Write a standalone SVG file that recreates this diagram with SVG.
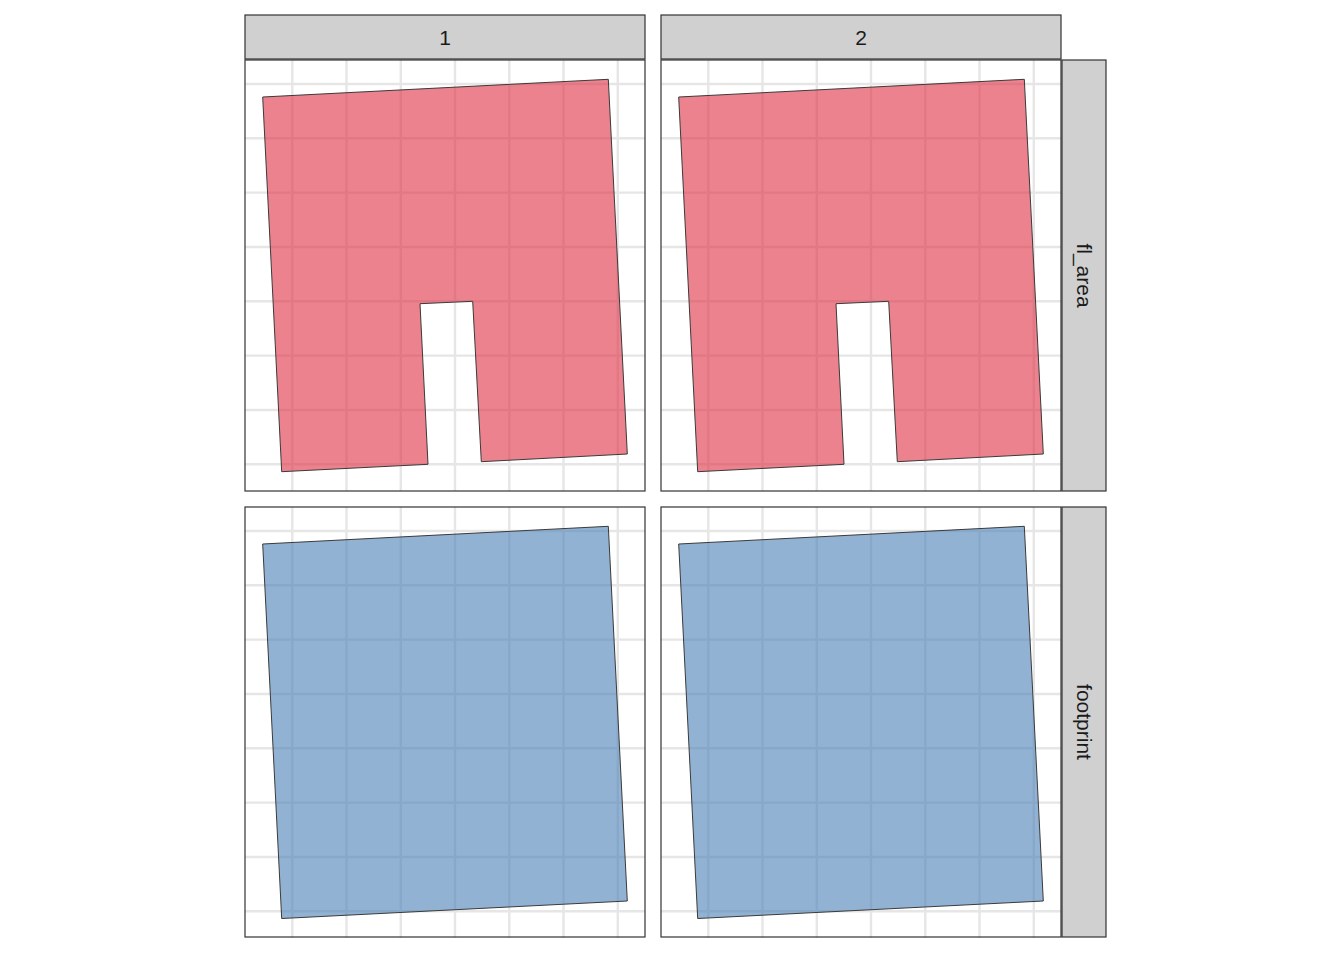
<svg xmlns="http://www.w3.org/2000/svg" width="1344" height="960" viewBox="0 0 1344 960">
<defs>
<style>
.bg{fill:#FFFFFF;}
.border{fill:none;stroke:#333333;stroke-width:1.2;}
.strip{fill:#D0D0D0;stroke:#333333;stroke-width:1.2;}
.stxt{font-family:"Liberation Sans",Arial,sans-serif;font-size:21px;fill:#1A1A1A;text-anchor:middle;}
.red{fill:#DF2F42;fill-opacity:0.6;stroke:#3a3a3a;stroke-width:1;}
.blue{fill:#4A7FB5;fill-opacity:0.6;stroke:#3a3a3a;stroke-width:1;}
</style>
<g id="gridV" stroke="#E6E6E6" stroke-width="2.4">
<line x1="47.3" y1="0" x2="47.3" y2="431"/>
<line x1="101.5" y1="0" x2="101.5" y2="431"/>
<line x1="155.8" y1="0" x2="155.8" y2="431"/>
<line x1="210" y1="0" x2="210" y2="431"/>
<line x1="264.3" y1="0" x2="264.3" y2="431"/>
<line x1="318.5" y1="0" x2="318.5" y2="431"/>
<line x1="372.8" y1="0" x2="372.8" y2="431"/>
<line x1="0" y1="24" x2="400" y2="24"/>
<line x1="0" y1="78.3" x2="400" y2="78.3"/>
<line x1="0" y1="132.6" x2="400" y2="132.6"/>
<line x1="0" y1="187" x2="400" y2="187"/>
<line x1="0" y1="241.3" x2="400" y2="241.3"/>
<line x1="0" y1="295.6" x2="400" y2="295.6"/>
<line x1="0" y1="350" x2="400" y2="350"/>
<line x1="0" y1="404.3" x2="400" y2="404.3"/>
</g>
</defs>
<rect x="0" y="0" width="1344" height="960" class="bg"/>

<g id="panel-1-fl_area">
<rect x="245" y="60" width="400" height="431" class="bg"/>
<use href="#gridV" transform="translate(245,60)"/>
<polygon class="red" points="262.7,97 608.3,79.3 627.3,454 481.3,461.7 472.7,301.3 420,303.7 428,464.3 281.7,471.7"/>
<rect x="245" y="60" width="400" height="431" class="border"/>
</g>

<g id="panel-2-fl_area">
<rect x="661" y="60" width="400" height="431" class="bg"/>
<use href="#gridV" transform="translate(661,60)"/>
<polygon class="red" points="678.7,97 1024.3,79.3 1043.3,454 897.3,461.7 888.7,301.3 836,303.7 844,464.3 697.7,471.7"/>
<rect x="661" y="60" width="400" height="431" class="border"/>
</g>

<g id="panel-1-footprint">
<rect x="245" y="507" width="400" height="430" class="bg"/>
<use href="#gridV" transform="translate(245,507)"/>
<polygon class="blue" points="262.7,544 608.3,526.3 627.3,901 281.7,918.5"/>
<rect x="245" y="507" width="400" height="430" class="border"/>
</g>

<g id="panel-2-footprint">
<rect x="661" y="507" width="400" height="430" class="bg"/>
<use href="#gridV" transform="translate(661,507)"/>
<polygon class="blue" points="678.7,544 1024.3,526.3 1043.3,901 697.7,918.5"/>
<rect x="661" y="507" width="400" height="430" class="border"/>
</g>

<g id="strip-top-1">
<rect x="245" y="15" width="400" height="44" class="strip"/>
<text x="445" y="45" class="stxt">1</text>
</g>
<g id="strip-top-2">
<rect x="661" y="15" width="400" height="44" class="strip"/>
<text x="861" y="45" class="stxt">2</text>
</g>
<g id="strip-right-fl_area">
<rect x="1062" y="60" width="44" height="431" class="strip"/>
<text x="1084" y="275.5" class="stxt" transform="rotate(90 1084 275.5)" dy="7">fl_area</text>
</g>
<g id="strip-right-footprint">
<rect x="1062" y="507" width="44" height="430" class="strip"/>
<text x="1084" y="722" class="stxt" transform="rotate(90 1084 722)" dy="7">footprint</text>
</g>
<g id="connectors"></g>
</svg>
